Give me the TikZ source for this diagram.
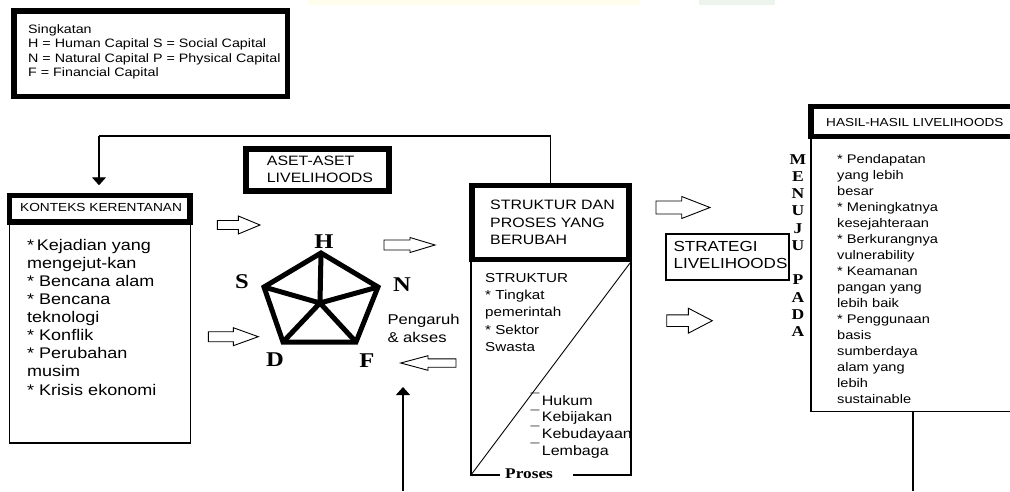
\documentclass[tikz,border=0pt]{standalone}
\usepackage{fontspec}
\setmainfont{Liberation Sans}[FakeStretch=1.17]
\newfontfamily\tnr{Liberation Serif}[FakeStretch=1.17]
\usetikzlibrary{arrows.meta}
\newcommand{\fsz}[2]{\fontsize{#1}{#2}\selectfont}
\newcommand{\mbul}{\raisebox{1.5pt}{¯}\,}
% block arrow: x-start, x-headbase, x-tip, y, shaft half, head half
\newcommand{\blockarr}[6]{%
  \draw[blockarrow] (#1,#4-#5) -- (#2,#4-#5) -- (#2,#4-#6) -- (#3,#4)
     -- (#2,#4+#6) -- (#2,#4+#5) -- (#1,#4+#5) -- cycle;}
\begin{document}
\begin{tikzpicture}[x=1pt,y=-1pt,line join=miter,
  thickbox/.style={draw,line width=5.5pt,inner sep=0pt},
  thinbox/.style={draw,line width=1.2pt,inner sep=0pt},
  txt/.style={inner sep=0pt,align=left,anchor=north west},
  blockarrow/.style={draw,line width=0.9pt,fill=white},
  conn/.style={line width=1.2pt},
  tiphead/.style={-{Triangle[width=14pt,length=8pt]}},
  pent/.style={line width=5pt},
  pentlabel/.style={inner sep=0pt,font=\tnr\bfseries\fsz{21}{24}}]
\useasboundingbox (0,0) rectangle (1010,491);
\clip (0,0) rectangle (1010,491);
\fill[white] (0,0) rectangle (1010,491);
% faint watermark band at the top
\fill[yellow!7] (308,0) rectangle (640,5);
\fill[green!40!black!7] (699,0) rectangle (775,5);

% ---- Singkatan
\node[thickbox,minimum width=273.5pt,minimum height=85.4pt] (sing) at (150.55,53.9) {};
\node[txt,font=\fsz{12.2}{14.3}] (singtxt) at (28,24.5)
  {Singkatan\\H = Human Capital S = Social Capital\\N = Natural Capital P = Physical Capital\\F = Financial Capital};

% ---- ASET-ASET
\node[thickbox,minimum width=143pt,minimum height=42.4pt] (aset) at (317.5,170) {};
\node[txt,font=\fsz{13.6}{16.7}] (asettxt) at (266.7,156) {ASET-ASET\\LIVELIHOODS};

% ---- KONTEKS
\node[thinbox,minimum width=181pt,minimum height=221pt] (konB) at (100,332.5) {};
\node[thickbox,fill=white,minimum width=180.5pt,minimum height=26.7pt] (konH) at (99.75,208.85) {};
\node[inner sep=0pt,anchor=base west,font=\fsz{11.7}{14}] (kontxt) at (20,211.7) {KONTEKS KERENTANAN};
\node[txt,font=\fsz{15.4}{18.1}] (konbody) at (27,238.9)
  {*\,Kejadian yang\\mengejut-kan\\* Bencana alam\\* Bencana\\teknologi\\* Konflik\\* Perubahan\\musim\\* Krisis ekonomi};

% ---- STRUKTUR
\coordinate (sbTL) at (471,259);
\coordinate (sbTR) at (631,259);
\coordinate (sbBL) at (471,475);
\coordinate (sbBR) at (631,475);
\coordinate (gapL) at (500,475);
\coordinate (gapR) at (573,475);
\draw[conn] (gapL) -- (sbBL) -- (sbTL) -- (sbTR) -- (sbBR) -- (gapR);
\coordinate (dg1) at (471.7,474);
\coordinate (dg2) at (630,263);
\draw[line width=0.9pt] (dg1) -- (dg2);
\node[thickbox,fill=white,line width=5.7pt,minimum width=157pt,minimum height=74pt] (strukH) at (550.5,222.5) {};
\node[txt,font=\fsz{13.6}{17.5}] (struktxt) at (490,200) {STRUKTUR DAN\\PROSES YANG\\BERUBAH};
\node[txt,font=\fsz{13}{17.2}] (strukbody) at (485,273.3) {STRUKTUR\\* Tingkat\\pemerintah\\* Sektor\\Swasta};
\node[inner sep=0pt,anchor=base west,font=\fsz{13.7}{17}] (p1) at (530.5,405) {\mbul Hukum};
\node[inner sep=0pt,anchor=base west,font=\fsz{13.7}{17}] (p2) at (530.5,421.7) {\mbul Kebijakan};
\node[inner sep=0pt,anchor=base west,font=\fsz{13.7}{17}] (p3) at (530.5,438.3) {\mbul Kebudayaan};
\node[inner sep=0pt,anchor=base west,font=\fsz{13.7}{17}] (p4) at (530.5,455) {\mbul Lembaga};
\node[inner sep=0pt,anchor=base west,font=\tnr\bfseries\fsz{14.8}{17}] (proses) at (505,478.3) {Proses};

% ---- feedback line on top
\coordinate (fbc) at (99,136);
\draw[conn] (strukH.north) |- (fbc);
\draw[conn,tiphead,shorten >=7.5pt] (fbc) -- (fbc |- konH.north);

% ---- pentagon
\coordinate (pH) at (321,253);
\coordinate (pN) at (378,287);
\coordinate (pF) at (356,342);
\coordinate (pD) at (283,342);
\coordinate (pS) at (264,287);
\coordinate (pc) at (320,303);
\draw[pent] (pH) -- (pN) -- (pF) -- (pD) -- (pS) -- cycle;
\draw[pent] (pH) -- (pc) (pN) -- (pc) (pF) -- (pc) (pD) -- (pc) (pS) -- (pc);
\node[pentlabel] (lH) at (324,242) {H};
\node[pentlabel] (lS) at (242,282) {S};
\node[pentlabel] (lN) at (402,285) {N};
\node[pentlabel] (lD) at (275,360) {D};
\node[pentlabel] (lF) at (367,361) {F};
\node[txt,font=\fsz{14.2}{17.3}] (pengaruh) at (387.3,314.3) {Pengaruh\\\& akses};

% ---- vertical arrow from below
\coordinate (va0) at (403,491);
\coordinate (va1) at (403,387);
\draw[conn,tiphead] (va0) -- (va1);

% ---- STRATEGI
\node[thinbox,minimum width=123pt,minimum height=46pt] (strat) at (727.5,257) {};
\node[txt,font=\fsz{14.6}{17.6}] (strattxt) at (673.3,240.7) {STRATEGI\\LIVELIHOODS};

% ---- MENUJU PADA
\node[inner sep=0pt,align=center,anchor=north,font=\tnr\bfseries\fsz{15}{17.25}] (menuju) at (798,154)
  {M\\E\\N\\U\\J\\U\\[17.25pt]P\\A\\D\\A};

% ---- HASIL
\node[thinbox,minimum width=214pt,minimum height=275.7pt] (hasilB) at (918,273.85) {};
\node[thickbox,fill=white,line width=5.3pt,minimum width=214pt,minimum height=30.1pt] (hasilH) at (918,121.75) {};
\node[inner sep=0pt,anchor=base west,font=\fsz{11.6}{14}] (hasiltxt) at (826,126) {HASIL-HASIL LIVELIHOODS};
\node[txt,font=\fsz{12.5}{16}] (hasilbody) at (837,154.3)
  {* Pendapatan\\yang lebih\\besar\\* Meningkatnya\\kesejahteraan\\* Berkurangnya\\vulnerability\\* Keamanan\\pangan yang\\lebih baik\\* Penggunaan\\basis\\sumberdaya\\alam yang\\lebih\\sustainable};
\coordinate (hv0) at (913,411.7);
\coordinate (hv1) at (913,491);
\draw[conn] (hv0) -- (hv1);

% ---- block arrows
\blockarr{217.3}{238.3}{260}{225}{4.5}{9}
\blockarr{208.3}{233.3}{258.3}{336.7}{5}{9}
\blockarr{384}{410}{435}{245}{5}{7.5}
\blockarr{456}{428}{400.7}{363}{4.2}{7.3}
\blockarr{656}{681.7}{710}{207.5}{6.5}{11}
\blockarr{666.7}{688.3}{712.3}{320.7}{5.8}{12.5}
\end{tikzpicture}
\end{document}
